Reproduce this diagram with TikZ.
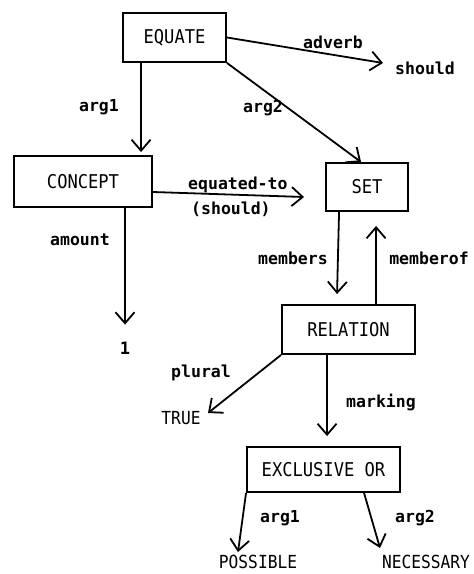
\documentclass[tikz,border=0pt]{standalone}
\usepackage{fontspec}
\newfontfamily\monofnt{DejaVu Sans Mono}
\newfontfamily\capfnt{DejaVu Sans Mono}[FakeStretch=0.9]
\usetikzlibrary{arrows.meta,calc}
\begin{document}
\begin{tikzpicture}[x=1bp,y=-1bp,
  box/.style={draw, line width=1.9bp, inner sep=0pt, font=\capfnt\fontsize{19bp}{21bp}\selectfont},
  val/.style={inner sep=1bp, font=\capfnt\fontsize{18bp}{20bp}\selectfont},
  lbl/.style={inner sep=1bp, font=\monofnt\bfseries\fontsize{16.5bp}{18bp}\selectfont},
  link/.style={line width=1.8bp, -{Straight Barb[length=11bp,width=19bp,line width=1.8bp]}}
]
\useasboundingbox (0,0) rectangle (474,574);
\fill[white] (0,0) rectangle (474,574);

% boxes
\node[box,minimum width=103bp,minimum height=49bp] (equate) at (174.5,37.5) {EQUATE};
\node[box,minimum width=138bp,minimum height=51bp] (concept) at (83,181.5) {CONCEPT};
\node[box,minimum width=82bp,minimum height=48bp] (set) at (367,187) {SET};
\node[box,minimum width=133bp,minimum height=49bp] (relation) at (348.5,329.5) {RELATION};
\node[box,minimum width=153bp,minimum height=45bp] (exor) at (323.5,469.5) {EXCLUSIVE OR};

% values
\node[lbl] (should) at (425,68) {should};
\node[val,font=\monofnt\bfseries\fontsize{17bp}{19bp}\selectfont] (one) at (125,348) {1};
\node[val] (true) at (181,418) {TRUE};
\node[val] (possible) at (258,562) {POSSIBLE};
\node[val] (necessary) at (426,562) {NECESSARY};

% connectors
\draw[link] ($(equate.south west)+(19,0)$) -- ($(concept.north west)+(128,-3)$);
\draw[link] (equate.east) -- ($(should.west)+(-11,-5)$);
\draw[link] (equate.south east) -- ($(set.north west)+(36,0)$);
\draw[link] ($(concept.east)+(0,10.5)$) -- ($(set.west)+(-21,10)$);
\draw[link] ($(concept.south west)+(112,0)$) -- ($(one.north)+(0,-16)$);
\draw[link] ($(set.south west)+(14,0)$) -- ($(relation.north west)+(56,-10)$);
\draw[link] ($(relation.north west)+(95,0)$) -- ($(set.south west)+(51,14)$);
\draw[link] (relation.south west) -- ($(true.center)+(27,-5)$);
\draw[link] ($(relation.south west)+(46,0)$) -- ($(exor.north west)+(81,-10)$);
\draw[link] (exor.south west) -- ($(possible.center)+(-20,-10)$);
\draw[link] ($(exor.south west)+(118,0)$) -- ($(necessary.center)+(-46,-14)$);

% labels
\node[lbl] (l-adverb) at (333,42) {adverb};
\node[lbl] (l-arg1a) at (99,107) {arg1};
\node[lbl] (l-arg2a) at (263,108) {arg2};
\node[lbl,anchor=west] (l-eq) at (187,185) {equated-to};
\node[lbl,anchor=west] (l-should) at (190,209) {(should)};
\node[lbl] (l-amount) at (80,240) {amount};
\node[lbl] (l-members) at (293,258) {members};
\node[lbl] (l-memberof) at (429,258) {memberof};
\node[lbl] (l-plural) at (201,373) {plural};
\node[lbl] (l-marking) at (381,402) {marking};
\node[lbl] (l-arg1b) at (280,518) {arg1};
\node[lbl] (l-arg2b) at (415,518) {arg2};
\end{tikzpicture}
\end{document}
